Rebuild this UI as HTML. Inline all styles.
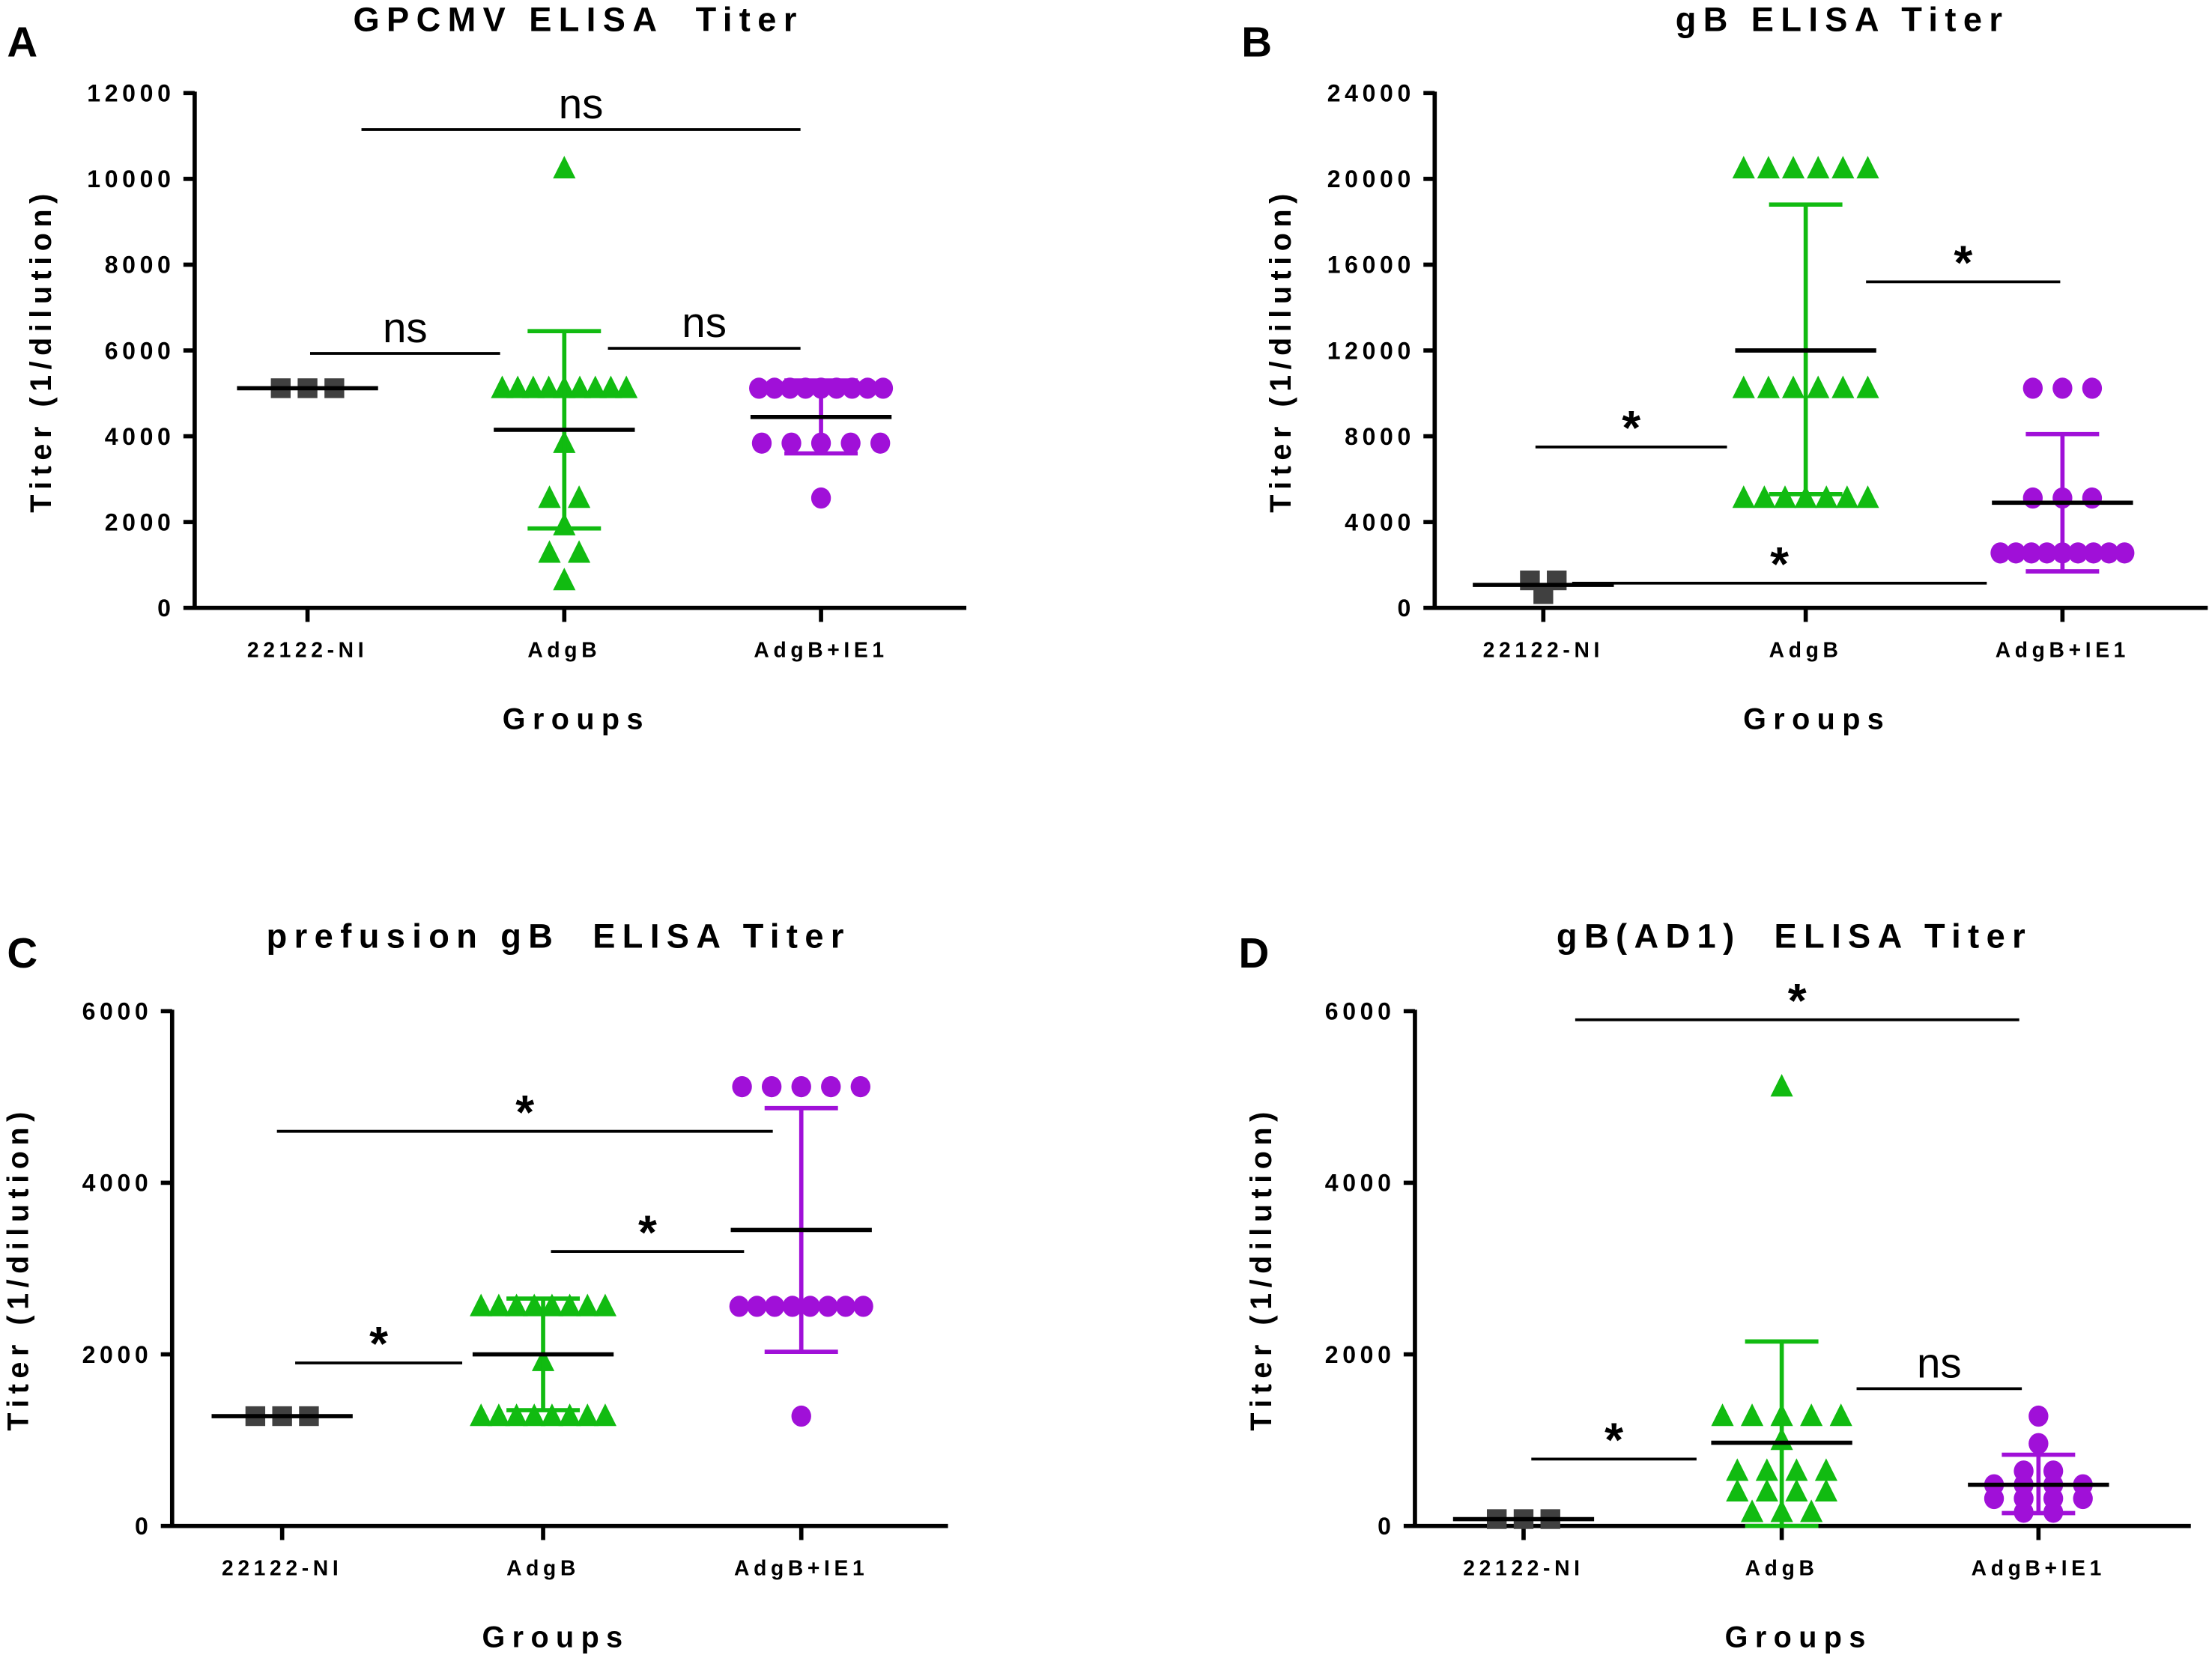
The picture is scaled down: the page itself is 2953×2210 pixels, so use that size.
<!DOCTYPE html>
<html><head><meta charset="utf-8"><style>
html,body{margin:0;padding:0;background:#fff}
svg{display:block}
text{font-family:"Liberation Sans",sans-serif;font-weight:bold;fill:#000;white-space:pre}
</style></head><body>
<svg id="fig" width="2953" height="2210" viewBox="0 0 1568 1173.5" preserveAspectRatio="none" xmlns="http://www.w3.org/2000/svg"></svg>
<script>
// ---- data ----
const groupNames = ["22122-NI", "AdgB", "AdgB+IE1"];
const titlesAll = ["GPCMV ELISA  Titer", "gB ELISA Titer", "prefusion gB  ELISA Titer", "gB(AD1)  ELISA Titer"];
const panelLetters = ["A", "B", "C", "D"];
const yMaxAll = [12000, 24000, 6000, 6000];
const yTicksA = [0, 2000, 4000, 6000, 8000, 10000, 12000];
const yTicksB = [0, 4000, 8000, 12000, 16000, 20000, 24000];
const yTicksC = [0, 2000, 4000, 6000];
const yTicksD = [0, 2000, 4000, 6000];

const niA = [5120, 5120, 5120];
const gbA = [10240, 5120, 5120, 5120, 5120, 5120, 5120, 5120, 5120, 5120, 3840, 2560, 2560, 1920, 1280, 1280, 640];
const ieA = [5120, 5120, 5120, 5120, 5120, 5120, 5120, 5120, 5120, 3840, 3840, 3840, 3840, 3840, 2560];
const niB = [1280, 1280, 640];
const gbB = [20480, 20480, 20480, 20480, 20480, 20480, 10240, 10240, 10240, 10240, 10240, 10240, 5120, 5120, 5120, 5120, 5120, 5120, 5120];
const ieB = [10240, 10240, 10240, 5120, 5120, 5120, 2560, 2560, 2560, 2560, 2560, 2560, 2560, 2560, 2560];
const niC = [1280, 1280, 1280];
const gbC = [2560, 2560, 2560, 2560, 2560, 2560, 2560, 2560, 1920, 1280, 1280, 1280, 1280, 1280, 1280, 1280, 1280];
const ieC = [5120, 5120, 5120, 5120, 5120, 2560, 2560, 2560, 2560, 2560, 2560, 2560, 2560, 1280];
const niD = [80, 80, 80];
const gbD = [5120, 1280, 1280, 1280, 1280, 1280, 1000, 640, 640, 640, 640, 400, 400, 400, 400, 160, 160, 160];
const ieD = [1280, 960, 640, 640, 480, 480, 480, 480, 320, 320, 320, 320, 160, 160];

// mean, sd low, sd high per group
const statsA = [[5120, 5120, 5120], [4150, 1850, 6450], [4450, 3600, 5300]];
const statsB = [[1070, 1070, 1070], [12000, 5300, 18800], [4900, 1700, 8100]];
const statsC = [[1280, 1280, 1280], [2000, 1350, 2650], [3450, 2030, 4870]];
const statsD = [[80, 80, 80], [970, 0, 2150], [480, 150, 830]];

// significance brackets: [value level, fromGroupFrac, toGroupFrac, label]
const sigA = [[11150, 0.21, 1.92, "ns"], [5930, 0.01, 0.75, "ns"], [6050, 1.17, 1.92, "ns"]];
const sigB = [[7500, -0.03, 0.7, "*"], [15200, 1.23, 1.97, "*"], [1150, 0.11, 1.69, "*"]];
const sigC = [[1900, 0.05, 0.69, "*"], [3200, 1.03, 1.77, "*"], [4600, -0.02, 1.88, "*"]];
const sigD = [[780, 0.03, 0.67, "*"], [1600, 1.29, 1.93, "ns"], [5900, 0.2, 1.92, "*"]];

// ---- layout ----
const panels = [
 {x0:138, x1:685, yTop:66, yBot:431, gx:[218,400,582], tick:yTicksA, data:[niA,gbA,ieA], st:statsA, sig:sigA, tx:410, ty:22, lx:5, ly:40},
 {x0:1017, x1:1565, yTop:66, yBot:431, gx:[1094,1280,1462], tick:yTicksB, data:[niB,gbB,ieB], st:statsB, sig:sigB, tx:1306, ty:22, lx:880, ly:40},
 {x0:122, x1:672, yTop:717, yBot:1082, gx:[200,385,568], tick:yTicksC, data:[niC,gbC,ieC], st:statsC, sig:sigC, tx:396, ty:672, lx:5, ly:686},
 {x0:1003, x1:1553, yTop:717, yBot:1082, gx:[1080,1263,1445], tick:yTicksD, data:[niD,gbD,ieD], st:statsD, sig:sigD, tx:1272, ty:672, lx:878, ly:686}
];
const colors = ["#404040", "#11bb11", "#a010d8"];
const NS = "http://www.w3.org/2000/svg";
const svg = document.getElementById("fig");
function mk(tag, attrs, parent){const e=document.createElementNS(NS,tag);for(const k in attrs)e.setAttribute(k,attrs[k]);(parent||svg).appendChild(e);return e;}

panels.forEach((p, pi) => {
  const g = mk("g", {});
  
  
  const yMax = yMaxAll[pi];
  const ys = v => p.yBot - v / yMax * (p.yBot - p.yTop);
  const L = mk("text", {x:p.lx, y:p.ly, "font-size":30}, g); L.textContent = panelLetters[pi];
  
  
  const T = mk("text", {x:p.tx, y:p.ty, "font-size":24, "text-anchor":"middle", "letter-spacing":"5"}, g); T.textContent = titlesAll[pi];
  
  
  const ax = mk("path", {d:`M${p.x0},${p.yTop-1}V${p.yBot}H${p.x1}`, stroke:"#000", "stroke-width":3, fill:"none"}, g);
  
  
  p.tick.forEach(t => {
    const y = ys(t);
    mk("line", {x1:p.x0-8, x2:p.x0, y1:y, y2:y, stroke:"#000", "stroke-width":3}, g);
    const tt = mk("text", {x:p.x0-14, y:y+6, "font-size":17, "text-anchor":"end", "letter-spacing":"3"}, g); tt.textContent = t;
    
    
  });
  const yl = mk("text", {x:0, y:0, "font-size":21, "text-anchor":"middle", "letter-spacing":"4", transform:`translate(${p.x0-102},${(p.yTop+p.yBot)/2}) rotate(-90)`}, g);
  yl.textContent = "Titer (1/dilution)";
  
  
  const xl = mk("text", {x:(p.x0+p.x1)/2-3, y:p.yBot+86, "font-size":21, "text-anchor":"middle", "letter-spacing":"5"}, g);
  xl.textContent = "Groups";
  
  
  p.gx.forEach((gx, gi) => {
    mk("line", {x1:gx, x2:gx, y1:p.yBot, y2:p.yBot+10, stroke:"#000", "stroke-width":3}, g);
    const gl = mk("text", {x:gx, y:p.yBot+35, "font-size":15, "text-anchor":"middle", "letter-spacing":"3"}, g);
    gl.textContent = groupNames[gi];
    
    
    const vals = p.data[gi];
    const rows = {};
    vals.forEach(v => { rows[v] = (rows[v] || 0) + 1; });
    Object.keys(rows).forEach(k => {
      const n = rows[k], v = +k, y = ys(v);
      const sp = gi === 0 ? 19 : Math.min(21, n > 1 ? 88 / (n - 1) : 21);
      for (let i = 0; i < n; i++) {
        const x = gx + (i - (n - 1) / 2) * sp;
        let m;
        if (gi === 0) m = mk("rect", {x:x-7, y:y-7, width:14, height:14, fill:colors[0]}, g);
        else if (gi === 1) m = mk("path", {d:`M${x},${y-9}L${x+8},${y+7}L${x-8},${y+7}Z`, fill:colors[1]}, g);
        else m = mk("ellipse", {cx:x, cy:y, rx:7, ry:7.5, fill:colors[2]}, g);
        
        
      }
    });
    const [mean, lo, hi] = p.st[gi];
    if (gi > 0) {
      const eb = mk("path", {d:`M${gx},${ys(lo)}V${ys(hi)}M${gx-26},${ys(lo)}H${gx+26}M${gx-26},${ys(hi)}H${gx+26}`, stroke:colors[gi], "stroke-width":3, fill:"none"}, g);
      
      
    }
    const ml = mk("line", {x1:gx-50, x2:gx+50, y1:ys(mean), y2:ys(mean), stroke:"#000", "stroke-width":3}, g);
    
    
  });
  const gstep = p.gx[1] - p.gx[0];
  p.sig.forEach(s => {
    const y = ys(s[0]);
    const xa = p.gx[0] + s[1] * gstep, xb = p.gx[0] + s[2] * gstep;
    const ln = mk("line", {x1:xa, x2:xb, y1:y, y2:y, stroke:"#000", "stroke-width":2}, g);
    
    
    const isStar = s[3] === "*";
    const st = mk("text", {x:(xa+xb)/2, y:isStar ? y-2 : y-8, "font-size":isStar ? 34 : 30, "text-anchor":"middle", style:isStar ? "font-weight:bold" : "font-weight:normal"}, g);
    st.textContent = s[3];
    
    
  });
});
</script>
</body></html>
